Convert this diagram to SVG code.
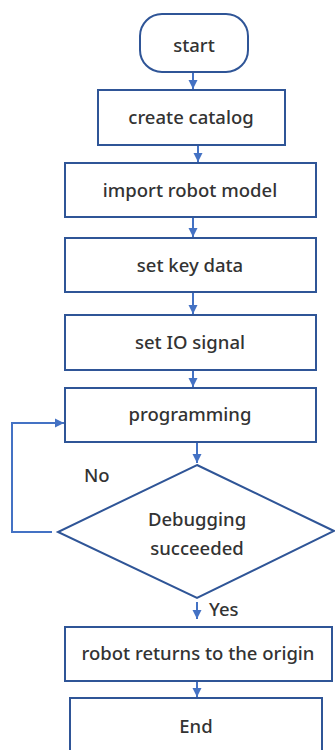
<svg xmlns="http://www.w3.org/2000/svg" width="335" height="750" viewBox="0 0 335 750">
<style>
.box{fill:#fff;stroke:#2F5597;stroke-width:2}
.lbl{font-family:"Noto Sans","Liberation Sans",sans-serif;font-size:18.5px;font-weight:500;fill:#333;text-anchor:middle}
.side{font-family:"Noto Sans","Liberation Sans",sans-serif;font-size:18.5px;font-weight:500;fill:#333}
.con{fill:none;stroke:#4472C4;stroke-width:2}
</style>
<defs>
<marker id="ah" viewBox="0 0 10 10" refX="10" refY="5" markerWidth="9" markerHeight="10" markerUnits="userSpaceOnUse" orient="auto">
<path d="M0,0 L10,5 L0,10 z" fill="#4472C4"/>
</marker>
</defs>
<rect width="335" height="750" fill="#fff"/>
<g id="connectors">
<line class="con" x1="193" y1="72" x2="193" y2="89" marker-end="url(#ah)"/>
<line class="con" x1="198" y1="145" x2="198" y2="162" marker-end="url(#ah)"/>
<line class="con" x1="193" y1="217" x2="193" y2="237" marker-end="url(#ah)"/>
<line class="con" x1="193" y1="292" x2="193" y2="314" marker-end="url(#ah)"/>
<line class="con" x1="193" y1="370" x2="193" y2="387" marker-end="url(#ah)"/>
<line class="con" x1="197" y1="442" x2="197" y2="463" marker-end="url(#ah)"/>
<polyline class="con" points="52,532 12,532 12,423 64,423" marker-end="url(#ah)"/>
<line class="con" x1="197" y1="602" x2="197" y2="619" marker-end="url(#ah)"/>
<line class="con" x1="197" y1="681" x2="197" y2="697" marker-end="url(#ah)"/>
<text class="side" x="84" y="482">No</text>
<text class="side" x="209" y="616">Yes</text>
</g>
<g id="start">
<rect class="box" x="140" y="14" width="108" height="58" rx="22" ry="22"/>
<text class="lbl" x="194" y="52">start</text>
</g>
<g id="create">
<rect class="box" x="98" y="90" width="187" height="55"/>
<text class="lbl" x="191" y="124">create catalog</text>
</g>
<g id="import">
<rect class="box" x="65" y="163" width="251" height="54"/>
<text class="lbl" x="190" y="197">import robot model</text>
</g>
<g id="keydata">
<rect class="box" x="65" y="238" width="251" height="54"/>
<text class="lbl" x="190" y="272">set key data</text>
</g>
<g id="io">
<rect class="box" x="65" y="315" width="251" height="55"/>
<text class="lbl" x="190" y="349">set IO signal</text>
</g>
<g id="programming">
<rect class="box" x="65" y="388" width="251" height="54"/>
<text class="lbl" x="190" y="421">programming</text>
</g>
<g id="debug">
<polygon class="box" points="197,465 334,531 197,598 58,532"/>
<text class="lbl" x="197" y="526">Debugging</text>
<text class="lbl" x="197" y="555">succeeded</text>
</g>
<g id="origin">
<rect class="box" x="65" y="627" width="267" height="54"/>
<text class="lbl" x="198" y="660">robot returns to the origin</text>
</g>
<g id="end">
<rect class="box" x="70" y="698" width="252" height="60"/>
<text class="lbl" x="196" y="733">End</text>
</g>
</svg>
